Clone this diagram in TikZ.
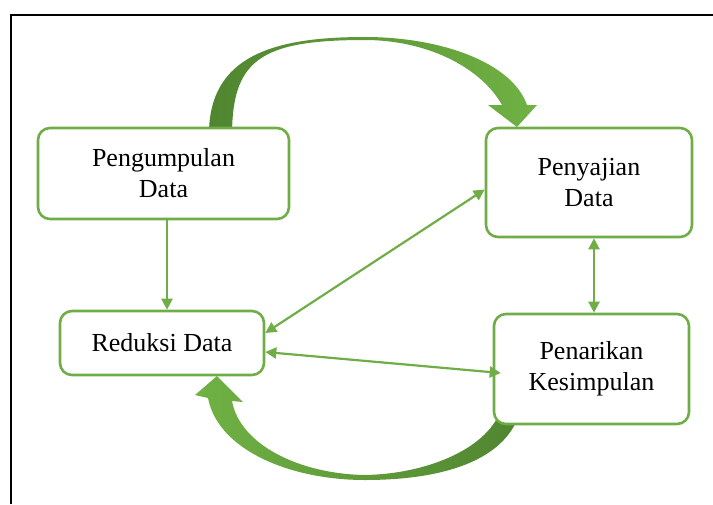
\documentclass[tikz,border=0pt]{standalone}
\usepackage{fontspec}
\setmainfont{Liberation Serif}
\usepackage{tikz}
\usetikzlibrary{arrows.meta, positioning, calc}
\definecolor{hijauGaris}{RGB}{112,173,71}
\definecolor{hijauTua}{RGB}{80,133,48}
\definecolor{hijauMuda}{RGB}{112,178,68}
\tikzset{
  pd/box/.style={rectangle, rounded corners=12pt, draw=hijauGaris, fill=white,
    line width=2.6pt, align=center, inner sep=0pt,
    font=\fontsize{26}{31}\selectfont\color{black}},
  pd/arr/.style={{Triangle[length=11pt,width=11pt]}-{Triangle[length=11pt,width=11pt]},
    line width=2.2pt, draw=hijauGaris, fill=hijauGaris},
  pd/one/.style={-{Triangle[length=11pt,width=11pt]},
    line width=2.2pt, draw=hijauGaris, fill=hijauGaris}
}
\begin{document}
\begin{tikzpicture}[x=1pt, y=-1pt]
  \useasboundingbox (0,0) rectangle (713,504);
  % bingkai
  \draw[line width=1.7pt] (11,504) -- (11,15) -- (713,15);

  % panah lengkung atas
  \shade[left color=hijauTua, right color=hijauMuda]
    (209,136) .. controls (208,55) and (275,37) .. (365,37)
    .. controls (440,37) and (512,62) .. (527,105)
    -- (537,105) -- (517,127) -- (488,105) -- (502,105)
    .. controls (480,66) and (425,40) .. (365,40)
    .. controls (260,40) and (232,60) .. (232,136) -- cycle;

  % panah lengkung bawah
  \shade[left color=hijauMuda, right color=hijauTua]
    (208,398) .. controls (218,450) and (290,480) .. (365,480)
    .. controls (440,480) and (505,462) .. (520,412)
    -- (500,412)
    .. controls (485,450) and (425,474) .. (365,475)
    .. controls (300,474) and (240,445) .. (232,401)
    -- (243,402) -- (217,376) -- (195,395) -- cycle;

  % kotak
  \node[pd/box, minimum width=251pt, minimum height=91pt]
    at (163.5,173.5) (kumpul) {Pengumpulan\\Data};
  \node[pd/box, minimum width=206pt, minimum height=109pt]
    at (589,182.5)   (saji)   {Penyajian\\Data};
  \node[pd/box, minimum width=204pt, minimum height=64pt]
    at (162,343)     (reduksi){Reduksi Data};
  \node[pd/box, minimum width=195pt, minimum height=110pt]
    at (591.5,369)   (simpul) {Penarikan\\Kesimpulan};

  % panah tipis
  \draw[pd/one] ([xshift=3.5pt]kumpul.south) -- ([xshift=5pt]reduksi.north);
  \draw[pd/arr] ([yshift=10pt]reduksi.east) -- ([yshift=-7pt]saji.west);
  \draw[pd/arr] ([yshift=-9pt]reduksi.east) -- ([xshift=8pt,yshift=-4pt]simpul.west);
  \draw[pd/arr] ([xshift=5pt]saji.south) -- ([xshift=2.5pt]simpul.north);
\end{tikzpicture}
\end{document}
